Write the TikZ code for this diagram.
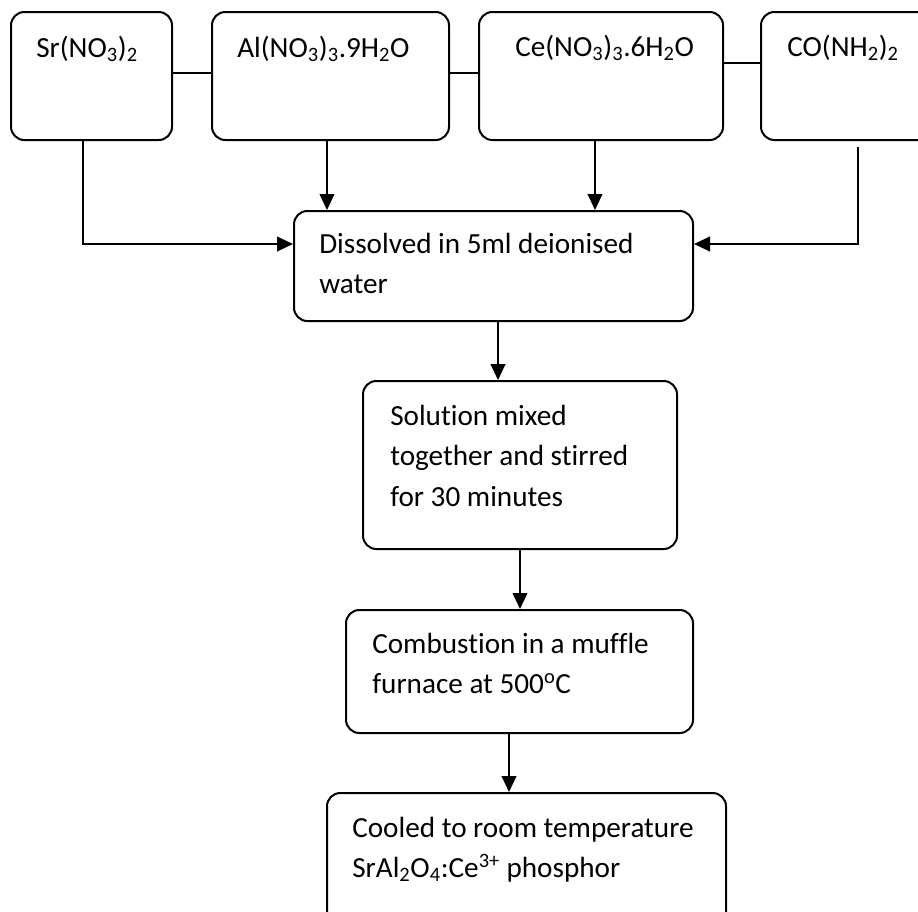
\documentclass[tikz,border=0pt]{standalone}
\usepackage{fontspec}
\setmainfont{Carlito}[Ligatures=NoCommon]
\usetikzlibrary{arrows.meta}
\tikzset{
  box/.style={draw, line width=1.5pt, rounded corners=10pt, inner sep=0pt},
  txt/.style={anchor=base west, inner sep=0pt, font=\fontsize{21.9}{30.4}\selectfont},
  link/.style={line width=1.5pt},
  arr/.style={line width=1.5pt, -{Triangle[length=12pt,width=11pt]}}
}
\newcommand{\lines}[1]{\begin{tabular}[t]{@{}l@{}}#1\end{tabular}}
\begin{document}
\begin{tikzpicture}[x=0.75pt,y=-0.75pt]
\useasboundingbox (0,0) rectangle (918,911);
% boxes
\node[box, minimum width=161pt*0.75, minimum height=128pt*0.75] (sr) at (91.5,76) {};
\node[box, minimum width=237pt*0.75, minimum height=128pt*0.75] (al) at (330.5,76) {};
\node[box, minimum width=244pt*0.75, minimum height=128pt*0.75] (ce) at (601,76) {};
\node[box, minimum width=199pt*0.75, minimum height=128pt*0.75] (co) at (860.5,76) {};
\node[box, minimum width=399pt*0.75, minimum height=110pt*0.75] (dis) at (493.5,266) {};
\node[box, minimum width=314pt*0.75, minimum height=168pt*0.75] (sol) at (520,465) {};
\node[box, minimum width=347pt*0.75, minimum height=123pt*0.75] (comb) at (519.5,671.5) {};
\node[box, minimum width=399pt*0.75, minimum height=140pt*0.75] (cool) at (526.5,863) {};
% texts
\node[txt] (srT) at (36,57) {Sr(NO\textsubscript{3})\textsubscript{2}};
\node[txt] (alT) at (237,57) {Al(NO\textsubscript{3})\textsubscript{3}.9H\textsubscript{2}O};
\node[txt] (ceT) at (515,56) {Ce(NO\textsubscript{3})\textsubscript{3}.6H\textsubscript{2}O};
\node[txt] (coT) at (787,56) {CO(NH\textsubscript{2})\textsubscript{2}};
\node[txt] (disT) at (319,253) {\lines{Dissolved in 5ml deionised\\water}};
\node[txt] (solT) at (390,425) {\lines{Solution mixed\\together and stirred\\for 30 minutes}};
\node[txt] (combT) at (372,653) {\lines{Combustion in a muffle\\furnace at 500\textsuperscript{o}C}};
\node[txt] (coolT) at (352,837) {\lines{Cooled to room temperature\\SrAl\textsubscript{2}O\textsubscript{4}:Ce\textsuperscript{3+} phosphor}};
% horizontal links between top boxes
\draw[link] (sr.east |- 0,73) -- (al.west |- 0,73);
\draw[link] (al.east |- 0,73) -- (ce.west |- 0,73);
\draw[link] (ce.east |- 0,63) -- (co.west |- 0,63);
% feeds into dissolution
\draw[arr] (sr.south -| 83,0) |- (dis.west |- 0,244);
\draw[arr] (al.south -| 327,0) -- (dis.north -| 327,0);
\draw[arr] (ce.south -| 595,0) -- (dis.north -| 595,0);
\coordinate (cofree) at (858,147);
\draw[arr] (cofree) |- (dis.east |- 0,244);
% main chain
\draw[arr] (dis.south -| 498,0) -- (sol.north -| 498,0);
\draw[arr] (sol.south -| 520,0) -- (comb.north -| 520,0);
\draw[arr] (comb.south -| 509,0) -- (cool.north -| 509,0);
\end{tikzpicture}
\end{document}
